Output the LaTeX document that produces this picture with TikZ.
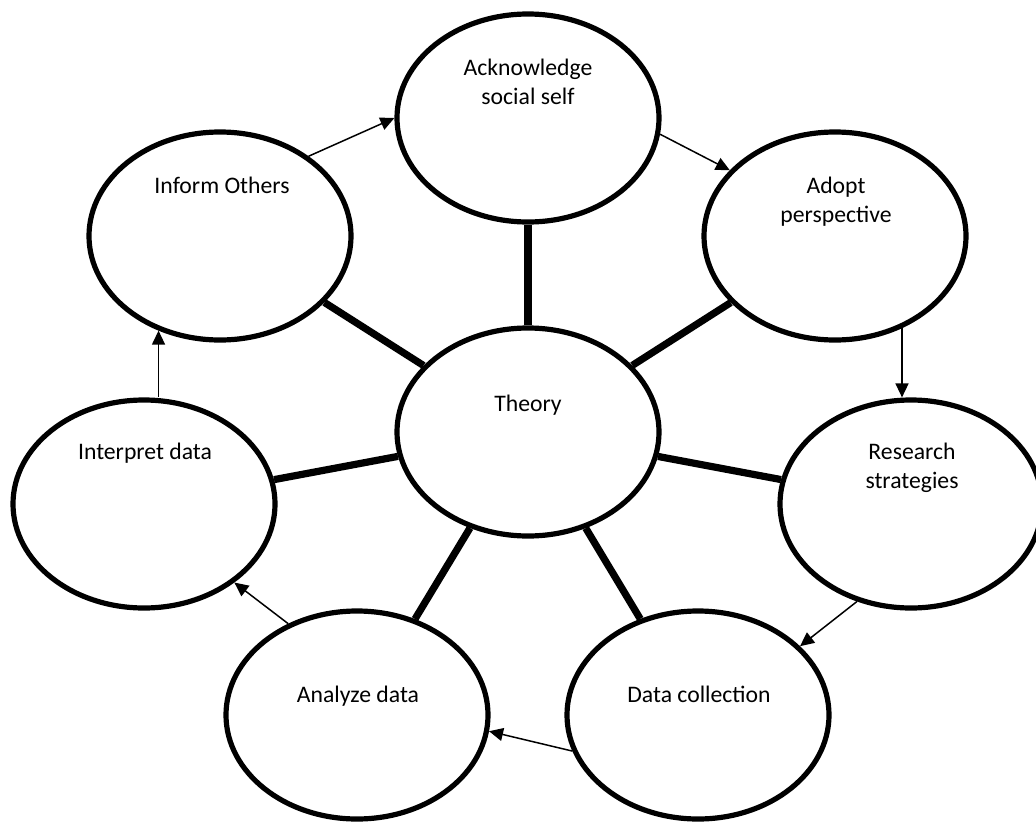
\documentclass[tikz,border=0pt]{standalone}
\usepackage{fontspec}
\setmainfont{Carlito}
\usetikzlibrary{shapes.geometric,arrows.meta}
\tikzset{
  bub/.style={ellipse, draw, line width=5.2pt, minimum width=262pt, minimum height=208pt, inner sep=0pt},
  lbl/.style={font=\fontsize{23.7pt}{29pt}\selectfont, align=center, inner sep=0pt},
  spoke/.style={line width=7.2pt},
  arr/.style={line width=1.5pt, -{Triangle[length=14pt,width=13pt]}}
}
\begin{document}
\begin{tikzpicture}[x=1pt,y=-1pt]
\useasboundingbox (0,0) rectangle (1036,822);
\fill[white] (0,0) rectangle (1036,822);
% ellipses
\node[bub] (ack) at (528,118) {};
\node[bub] (inform) at (220,236) {};
\node[bub] (adopt) at (835,236) {};
\node[bub] (theory) at (528,432) {};
\node[bub] (interp) at (144,504) {};
\node[bub] (research) at (911,504) {};
\node[bub] (analyze) at (357,715) {};
\node[bub] (data) at (698,715) {};
% texts
\node[lbl] (ackT) at (528,81.5) {Acknowledge\\social self};
\node[lbl, anchor=base] (informT) at (222,193) {Inform Others};
\node[lbl] (adoptT) at (836,201.5) {Adopt\\perspective};
\node[lbl, anchor=base] (theoryT) at (528,411) {Theory};
\node[lbl, anchor=base] (interpT) at (145,459) {Interpret data};
\node[lbl] (researchT) at (912,467.5) {Research\\strategies};
\node[lbl, anchor=base] (analyzeT) at (358,702) {Analyze data};
\node[lbl, anchor=base] (dataT) at (699,702) {Data collection};
% spokes
\draw[spoke] (theory) -- (ack);
\draw[spoke] (theory) -- (inform);
\draw[spoke] (theory) -- (adopt);
\draw[spoke] (theory) -- (interp);
\draw[spoke] (theory) -- (research);
\draw[spoke] (theory) -- (analyze);
\draw[spoke] (theory) -- (data);
% cycle arrows
\draw[arr] (inform.42) -- (ack.180);
\draw[arr] (ack.-7) -- (adopt.148);
\draw[arr] (adopt.-54) -- (adopt.-54 |- research.north);
\draw[arr] (research.241) -- (data.34);
\draw[arr] (data.196) -- (analyze.-7);
\draw[arr] (analyze.127) -- (interp.-41);
\draw[arr] (inform.237 |- interp.north) -- (inform.237);
\end{tikzpicture}
\end{document}
